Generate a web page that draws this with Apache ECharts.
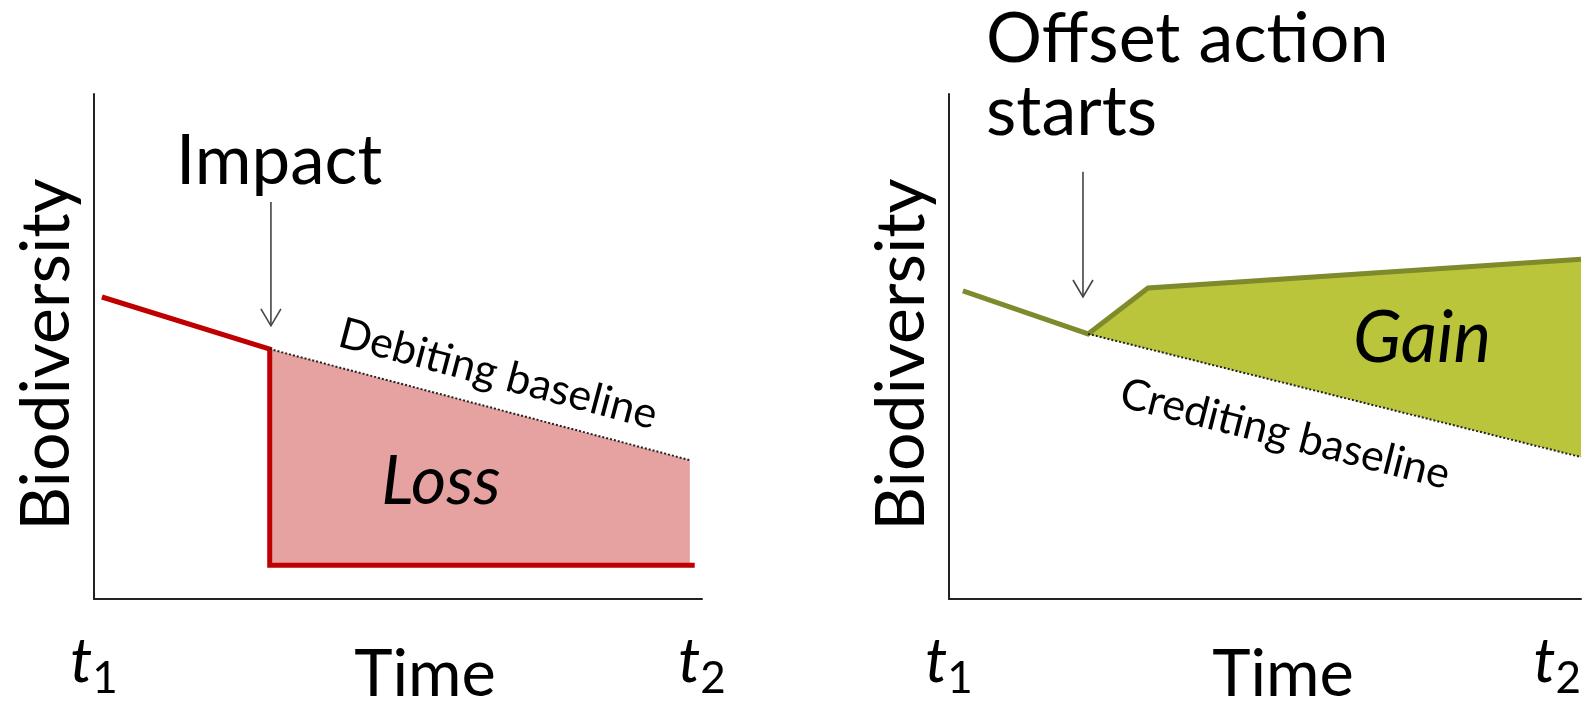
<!DOCTYPE html>
<html>
<head>
<meta charset="utf-8">
<script src="https://cdn.jsdelivr.net/npm/echarts@6/dist/echarts.min.js"></script>
<style>
html,body{margin:0;padding:0;background:#fff;}
#main{width:1587px;height:704px;}
</style>
</head>
<body>
<div id="main"></div>
<script>
// ---- data (x: time 0..100 between t1 and t2, y: biodiversity 0..100) ----
var xTickLabels = ['1', '2'];   // subscripts of t at the axis ends
// Left panel: loss
var lossPath = [[1.3, 59.8], [28.9, 49.5], [28.9, 6.7], [98.8, 6.7]];
var debitingBaseline = [[28.9, 49.5], [98.0, 27.5]];
var lossFloor = 6.7;
var impactArrow = [[29.1, 78.6, 54.1]];
// Right panel: gain
var gainPath = [[2.2, 61.0], [22.0, 52.5], [31.5, 61.6], [100, 67.3]];
var creditingBaseline = [[22.0, 52.5], [100, 28.1]];
var offsetArrow = [[21.2, 84.6, 59.8]];

var FONT = 'Lato, "Open Sans", sans-serif';
var RED = '#C00000', PINK = '#E6A2A0', OLIVE = '#7F8A2C', GREEN = '#BBC53B';

function xAxisCfg(idx, namePad, alignMax) {
  return {
    gridIndex: idx, type: 'value', min: 0, max: 100, interval: 100,
    axisLine: {show: true, lineStyle: {color: '#222', width: 2}},
    axisTick: {show: false}, splitLine: {show: false},
    axisLabel: {
      show: true, margin: 32, alignMaxLabel: alignMax,
      formatter: function (v) { return '{t|t}{s|' + (v === 0 ? xTickLabels[0] : xTickLabels[1]) + '}'; },
      rich: {
        t: {fontSize: 62, fontStyle: 'italic', fontFamily: FONT, color: '#000', verticalAlign: 'top', lineHeight: 70},
        s: {fontSize: 44, fontFamily: FONT, color: '#000', verticalAlign: 'bottom', lineHeight: 44}
      }
    },
    name: 'Time', nameLocation: 'middle', nameGap: 44, nameMoveOverlap: false,
    nameTextStyle: {fontSize: 65, fontFamily: FONT, color: '#000', padding: [0, 0, 0, namePad]}
  };
}
function yAxisCfg(idx) {
  return {
    gridIndex: idx, type: 'value', min: 0, max: 100,
    axisLine: {show: true, lineStyle: {color: '#222', width: 2}},
    axisTick: {show: false}, splitLine: {show: false}, axisLabel: {show: false},
    name: 'Biodiversity', nameLocation: 'middle', nameGap: 13, nameRotate: 90, nameMoveOverlap: false,
    nameTextStyle: {fontSize: 68, fontFamily: FONT, color: '#000', padding: [0, 16, 0, 0]}
  };
}

function polygonSeries(idx, getPts, color) {
  return {
    type: 'custom', xAxisIndex: idx, yAxisIndex: idx, z: 1, silent: true,
    data: [[0, 0]],
    renderItem: function (params, api) {
      var pts = getPts().map(function (p) { return api.coord(p); });
      return {type: 'polygon', shape: {points: pts}, style: {fill: color}};
    }
  };
}
function arrowSeries(idx, data) {
  return {
    type: 'custom', xAxisIndex: idx, yAxisIndex: idx, z: 5, silent: true,
    data: data,
    renderItem: function (params, api) {
      var a = api.coord([api.value(0), api.value(1)]);
      var b = api.coord([api.value(0), api.value(2)]);
      var st = {stroke: '#444', lineWidth: 1.6, fill: null};
      return {type: 'group', children: [
        {type: 'line', shape: {x1: a[0], y1: a[1], x2: b[0], y2: b[1]}, style: st},
        {type: 'polyline', shape: {points: [[b[0] - 10, b[1] - 17], [b[0], b[1]], [b[0] + 10, b[1] - 17]]}, style: st}
      ]};
    }
  };
}

var chart = echarts.init(document.getElementById('main'), null, {renderer: 'canvas'});
chart.setOption({
  backgroundColor: '#fff',
  animation: false,
  grid: [
    {left: 94, right: 885, top: 94, bottom: 105, containLabel: false, outerBoundsMode: 'none'},
    {left: 949, right: 6, top: 94, bottom: 105, containLabel: false, outerBoundsMode: 'none'}
  ],
  xAxis: [xAxisCfg(0, 54, null), xAxisCfg(1, 36, 'right')],
  yAxis: [yAxisCfg(0), yAxisCfg(1)],
  series: [
    polygonSeries(0, function () {
      var a = debitingBaseline[0], b = debitingBaseline[1];
      return [a, b, [b[0], lossFloor], [a[0], lossFloor]];
    }, PINK),
    {type: 'line', xAxisIndex: 0, yAxisIndex: 0, data: lossPath, symbol: 'none', z: 3,
     lineStyle: {color: RED, width: 5, join: 'miter'}},
    {type: 'line', xAxisIndex: 0, yAxisIndex: 0, data: debitingBaseline, symbol: 'none', z: 4,
     lineStyle: {color: '#222', width: 2, type: 'dotted'}},
    arrowSeries(0, impactArrow),
    polygonSeries(1, function () {
      var up = gainPath.slice(1);
      var low = creditingBaseline.slice().reverse();
      return up.concat(low);
    }, GREEN),
    {type: 'line', xAxisIndex: 1, yAxisIndex: 1, data: gainPath, symbol: 'none', z: 3,
     lineStyle: {color: OLIVE, width: 5, join: 'miter'}},
    {type: 'line', xAxisIndex: 1, yAxisIndex: 1, data: creditingBaseline, symbol: 'none', z: 4,
     lineStyle: {color: '#222', width: 2, type: 'dotted'}},
    arrowSeries(1, offsetArrow)
  ],
  graphic: [
    {type: 'text', z: 100, left: 176, top: 127, style: {text: 'Impact', fontSize: 69, fontFamily: FONT, fill: '#000'}},
    {type: 'text', z: 100, x: 498, y: 374, rotation: -0.258,
     style: {text: 'Debiting baseline', fontSize: 43, fontFamily: FONT, fill: '#000', align: 'center', verticalAlign: 'middle'}},
    {type: 'text', z: 100, x: 441, y: 482,
     style: {text: 'Loss', fontSize: 68, fontStyle: 'italic', fontFamily: FONT, fill: '#000', align: 'center', verticalAlign: 'middle'}},
    {type: 'text', z: 100, left: 986, top: 4, style: {text: 'Offset action', fontSize: 70, fontFamily: FONT, fill: '#000'}},
    {type: 'text', z: 100, left: 986, top: 77, style: {text: 'starts', fontSize: 70, fontFamily: FONT, fill: '#000'}},
    {type: 'text', z: 100, x: 1422, y: 339,
     style: {text: 'Gain', fontSize: 71, fontStyle: 'italic', fontFamily: FONT, fill: '#000', align: 'center', verticalAlign: 'middle'}},
    {type: 'text', z: 100, x: 1285, y: 434, rotation: -0.248,
     style: {text: 'Crediting baseline', fontSize: 43, fontFamily: FONT, fill: '#000', align: 'center', verticalAlign: 'middle'}}
  ]
});
</script>
</body>
</html>
